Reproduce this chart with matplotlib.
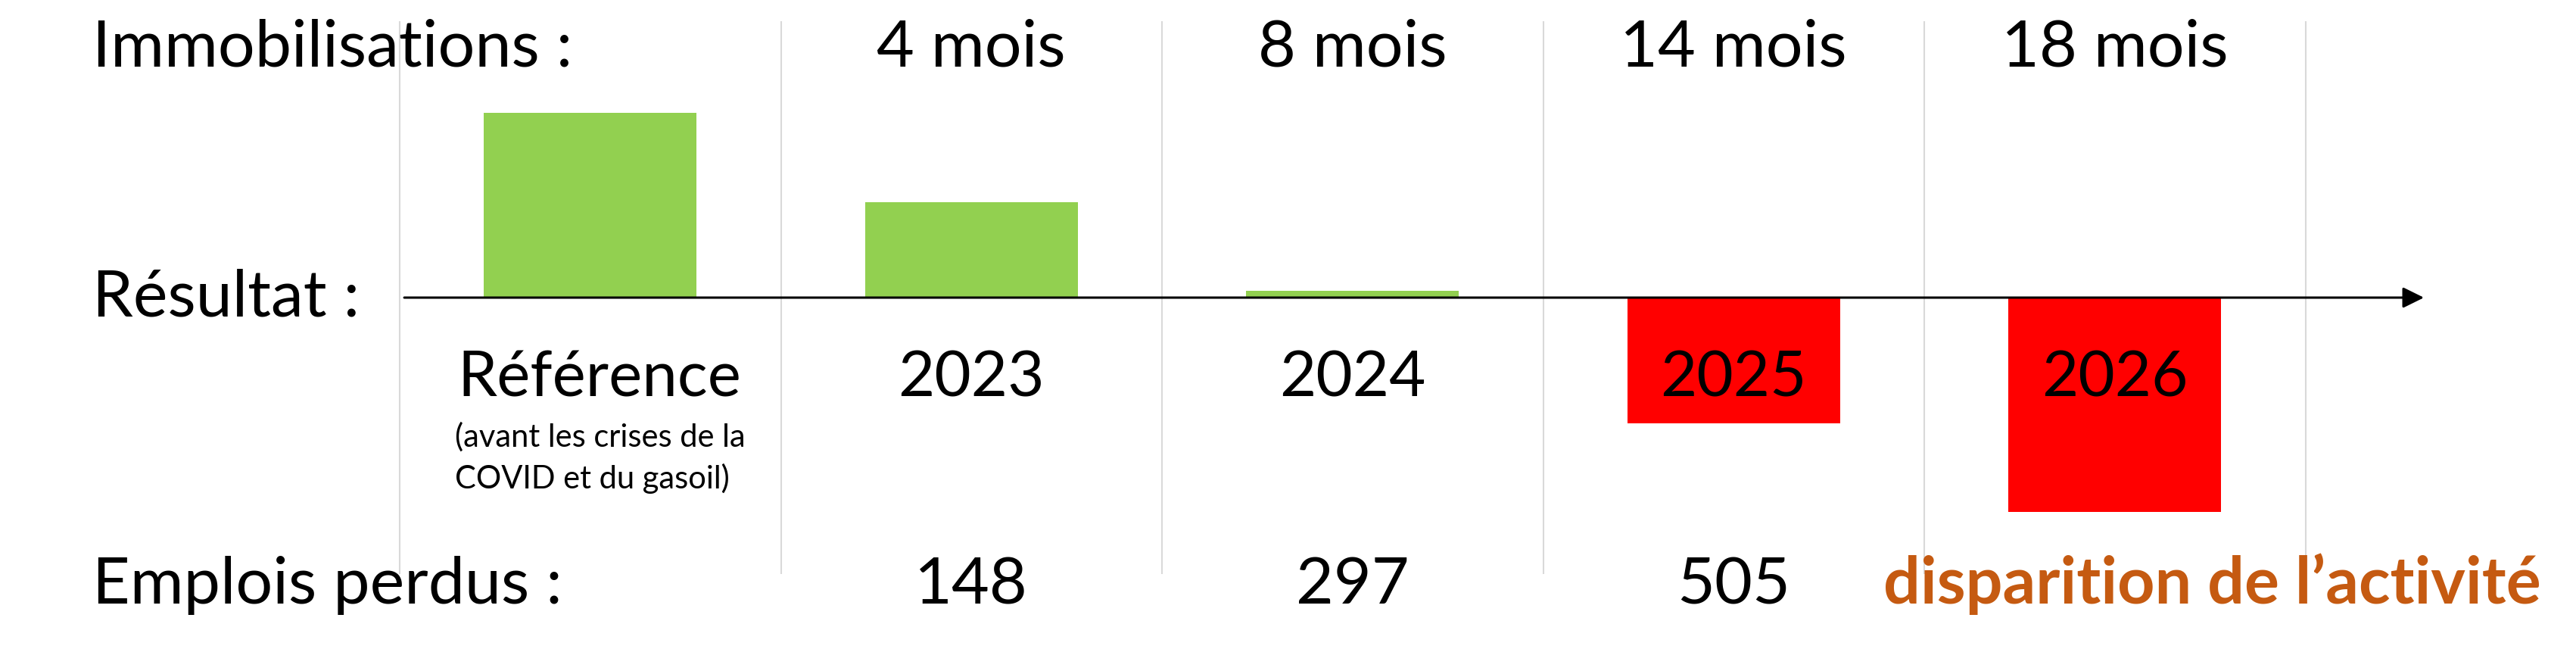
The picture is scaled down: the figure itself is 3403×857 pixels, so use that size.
import matplotlib.pyplot as plt
import numpy as np

plt.rcParams['font.family'] = ['Lato', 'DejaVu Sans']

# Données (résultat en unités relatives)
annees = ['Référence', '2023', '2024', '2025', '2026']
immobilisations = ['', '4 mois', '8 mois', '14 mois', '18 mois']
resultat = [244, 126, 9, -166, -283]
emplois_perdus = ['', '148', '297', '505', '']
note_reference = ['(avant les crises de la', 'COVID et du gasoil)']

fig = plt.figure(figsize=(34.03, 8.57), dpi=100)
ax = fig.add_axes([0, 0, 1, 1])
ax.set_xlim(-1.5487, 5.21)
ax.set_ylim(-464, 393)
ax.axis('off')

x = np.arange(len(annees))

# lignes verticales de séparation
ax.vlines(np.arange(len(annees) + 1) - 0.5, -365, 365, color='#D9D9D9', lw=1.5, zorder=0)

# barres
couleurs = ['#92D050' if v > 0 else '#FF0000' for v in resultat]
ax.bar(x, resultat, width=0.558, color=couleurs, zorder=2)

# axe horizontal avec flèche
ax.annotate('', xy=(4.811, 0), xytext=(-0.488, 0),
            arrowprops=dict(arrowstyle='-|>,head_length=0.85,head_width=0.42',
                            mutation_scale=20, lw=2.2, color='black',
                            shrinkA=0, shrinkB=0), zorder=3)

# libellés de gauche
fs = 62
ax.text(-1.306, 305, 'Immobilisations :', fontsize=fs, va='baseline', ha='left')
ax.text(-1.306, -25, 'Résultat :', fontsize=fs, va='baseline', ha='left')
ax.text(-1.306, -404, 'Emplois perdus :', fontsize=fs, va='baseline', ha='left')

for i in x:
    if immobilisations[i]:
        ax.text(i, 305, immobilisations[i], fontsize=fs, va='baseline', ha='center')
    if i == 0:
        ax.text(-0.349, -130, annees[i], fontsize=fs - 2, va='baseline', ha='left', zorder=4)
    else:
        ax.text(i, -130, annees[i], fontsize=fs - 2, va='baseline', ha='center', zorder=4)
    if emplois_perdus[i]:
        ax.text(i, -404, emplois_perdus[i], fontsize=fs, va='baseline', ha='center')

ax.text(-0.355, -197, note_reference[0], fontsize=30, va='baseline', ha='left')
ax.text(-0.355, -252, note_reference[1], fontsize=30, va='baseline', ha='left')

ax.text(4.255, -404, 'disparition de l’activité', fontsize=fs, fontweight='bold',
        color='#C55A11', va='baseline', ha='center')

plt.savefig('out.png', dpi=100)
